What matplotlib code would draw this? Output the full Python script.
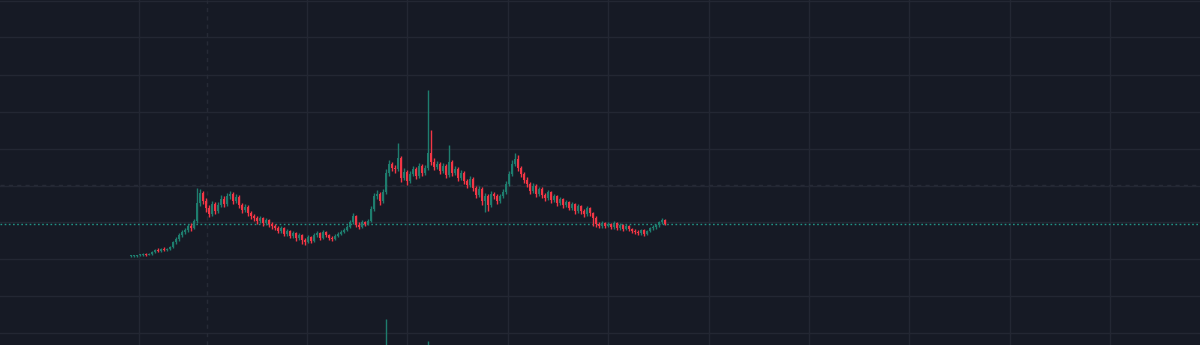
import matplotlib
matplotlib.use("Agg")
import matplotlib.pyplot as plt
import numpy as np

# ---- data (price in cents, candle index = time) ----
opens = [89, 89, 89, 90, 90, 91, 90, 91, 93, 95, 94, 96, 95,
         96, 98, 103, 106, 110, 113, 115, 119, 117, 124, 142,
         152, 144, 137, 131, 141, 134, 140, 146, 141, 149, 151, 144,
         148, 140, 135, 138, 132, 129, 127, 124, 127, 122, 125,
         121, 119, 117, 114, 117, 111, 114, 109, 112, 107,
         110, 105, 103, 108, 104, 110, 112, 107, 113, 110, 107, 106, 109,
         111, 113, 115, 118, 123, 129, 120, 118, 123, 121,
         124, 136, 149, 151, 144, 153, 172, 181, 177, 176, 187, 167, 173, 164,
         171, 176, 169, 179, 172, 177, 192, 183, 178, 181, 174, 179, 170, 183,
         172, 176, 167, 172, 164, 160, 166, 157, 150, 156, 144, 149, 140,
         151, 149, 144, 149, 153, 161, 171, 181, 186, 177, 171, 165, 161, 154,
         159, 151, 156, 150, 147, 153, 145, 149, 142, 146, 140, 143, 137, 141,
         134, 139, 134, 131, 137, 132, 127, 121, 119, 122, 119, 121, 118, 122,
         117, 120, 116, 119, 116, 114, 113, 112, 115, 111, 114, 117, 118, 120,
         123, 125]
closes = [89, 89, 90, 90, 91, 90, 91, 93, 95, 94, 96, 95, 96,
          98, 103, 106, 110, 113, 115, 119, 117, 124, 142, 152,
          144, 137, 131, 141, 134, 140, 146, 141, 149, 151, 144, 148,
          140, 135, 138, 132, 129, 127, 124, 127, 122, 125, 121,
          119, 117, 114, 117, 111, 114, 109, 112, 107, 110,
          105, 103, 108, 104, 110, 112, 107, 113, 110, 107, 106, 109, 111,
          113, 115, 118, 123, 129, 120, 118, 123, 121, 124,
          136, 149, 151, 144, 153, 172, 181, 177, 176, 187, 167, 173, 164, 171,
          176, 169, 179, 172, 177, 192, 183, 178, 181, 174, 179, 170, 183, 172,
          176, 167, 172, 164, 160, 166, 157, 150, 156, 144, 149, 140, 151,
          149, 144, 149, 153, 161, 171, 181, 186, 177, 171, 165, 161, 154, 159,
          151, 156, 150, 147, 153, 145, 149, 142, 146, 140, 143, 137, 141, 134,
          139, 134, 131, 137, 132, 127, 121, 119, 122, 119, 121, 118, 122, 117,
          120, 116, 119, 116, 114, 113, 112, 115, 111, 114, 117, 118, 120, 123,
          125, 121]
highs = [90, 90, 90, 91, 92, 92, 92, 94, 96, 97, 97, 98, 97,
         99, 104, 108, 112, 115, 117, 121, 122, 126, 157, 156,
         154, 147, 140, 144, 143, 143, 150, 149, 152, 154, 153, 151,
         150, 142, 141, 140, 134, 131, 129, 129, 128, 127, 126,
         123, 121, 119, 119, 118, 116, 115, 114, 113, 112,
         111, 107, 110, 109, 112, 114, 113, 115, 114, 111, 109, 111, 113,
         115, 117, 120, 125, 132, 130, 123, 125, 124, 126,
         139, 152, 155, 153, 156, 176, 185, 183, 180, 202, 189, 177, 175, 174,
         179, 178, 182, 181, 180, 255, 215, 187, 184, 183, 182, 181, 200, 185,
         179, 178, 175, 174, 166, 169, 168, 159, 159, 158, 152, 151, 154,
         153, 151, 151, 156, 164, 174, 185, 192, 190, 179, 173, 168, 163, 162,
         161, 158, 158, 152, 155, 154, 151, 150, 148, 147, 145, 144, 143, 142,
         141, 140, 136, 139, 138, 133, 129, 123, 124, 123, 123, 122, 124, 123,
         122, 121, 121, 120, 117, 116, 115, 116, 116, 115, 118, 120, 121, 124,
         127, 126]
lows = [88, 88, 88, 89, 89, 89, 90, 90, 92, 93, 93, 94, 94,
        95, 97, 101, 104, 108, 111, 113, 114, 116, 122, 139,
        141, 133, 128, 129, 131, 132, 138, 138, 139, 146, 141, 142,
        137, 132, 133, 129, 126, 124, 121, 122, 119, 120, 118,
        116, 115, 112, 112, 109, 109, 107, 107, 104, 105,
        101, 100, 102, 102, 103, 108, 105, 106, 108, 105, 104, 105, 108,
        110, 112, 114, 117, 121, 118, 116, 117, 119, 120,
        123, 134, 146, 140, 142, 151, 169, 174, 172, 174, 163, 165, 160, 162,
        169, 166, 167, 169, 170, 175, 180, 175, 176, 171, 172, 167, 168, 169,
        170, 164, 165, 161, 157, 158, 154, 147, 148, 140, 133, 134, 138,
        146, 141, 142, 147, 151, 159, 169, 179, 174, 168, 162, 158, 151, 152,
        148, 149, 147, 144, 145, 142, 143, 139, 140, 137, 138, 135, 135, 131,
        132, 131, 128, 129, 129, 119, 118, 117, 117, 117, 118, 116, 116, 115,
        115, 114, 115, 114, 112, 111, 110, 110, 109, 110, 113, 115, 116, 118,
        121, 120]
volumes = [0.02, 0.01, 0.02, 0.01, 0.02, 0.03, 0.01, 0.02, 0.03, 0.02, 0.02, 0.01, 0.02,
           0.02, 0.03, 0.03, 0.04, 0.03, 0.03, 0.04, 0.03, 0.04, 0.09, 0.06,
           0.05, 0.04, 0.04, 0.03, 0.03, 0.03, 0.04, 0.03, 0.04, 0.03, 0.03, 0.03,
           0.03, 0.02, 0.02, 0.02, 0.02, 0.02, 0.02, 0.01, 0.02, 0.01, 0.02,
           0.01, 0.02, 0.01, 0.02, 0.01, 0.01, 0.02, 0.01, 0.01, 0.02,
           0.02, 0.02, 0.01, 0.01, 0.02, 0.01, 0.01, 0.02, 0.01, 0.01, 0.01, 0.01, 0.01,
           0.02, 0.02, 0.02, 0.03, 0.04, 0.03, 0.02, 0.02, 0.02, 0.02,
           0.06, 0.07, 0.05, 0.04, 0.05, 26.0, 0.09, 0.06, 0.05, 0.08, 0.07, 0.05, 0.05, 0.04,
           0.04, 0.04, 0.05, 0.04, 0.04, 4.0, 0.10, 0.06, 0.04, 0.04, 0.04, 0.03, 0.06, 0.04,
           0.03, 0.03, 0.03, 0.03, 0.03, 0.03, 0.03, 0.03, 0.03, 0.03, 0.03, 0.03, 0.03,
           0.02, 0.02, 0.02, 0.02, 0.04, 0.05, 0.06, 0.06, 0.04, 0.03, 0.03, 0.02, 0.02, 0.02,
           0.02, 0.02, 0.02, 0.02, 0.02, 0.02, 0.02, 0.02, 0.02, 0.02, 0.01, 0.02, 0.01, 0.02,
           0.01, 0.02, 0.01, 0.01, 0.02, 0.01, 0.03, 0.02, 0.01, 0.01, 0.01, 0.01, 0.01, 0.01,
           0.01, 0.01, 0.01, 0.01, 0.01, 0.01, 0.01, 0.01, 0.01, 0.01, 0.01, 0.01, 0.01, 0.01,
           0.01, 0.01]

# ---- style ----
BG = "#161a25"
GRID = "#232733"
UP = "#1e7d6e"
DOWN = "#f23645"
PRICE_LINE = "#229486"
CROSS = "#262a36"

o = np.array(opens, float)
c = np.array(closes, float)
h = np.array(highs, float)
l = np.array(lows, float)
v = np.array(volumes, float)
x = np.arange(len(c))
up = c >= o
colors = np.where(up, UP, DOWN)

fig = plt.figure(figsize=(12, 3.45), dpi=100, facecolor=BG)
ax = fig.add_axes([0, 0, 1, 1])
ax.set_facecolor(BG)

# x scale: 3 px per candle, first candle at px 131
px = 3.0
ax.set_xlim(-131 / px, (1200 - 131) / px)
ax.set_ylim(0, 345)

# grid
vgrid = [2.67, 58.67, 92.0, 125.67, 159.0, 192.67, 226.0, 259.33, 293.0, 326.33]
hgrid = [344, 308, 270, 233, 196, 159, 123, 86, 49, 12]
for gx in vgrid:
    ax.axvline(gx, color=GRID, lw=1.0, zorder=0)
for gy in hgrid:
    ax.axhline(gy, color=GRID, lw=1.0, zorder=0)

# crosshair (faint dashed)
ax.axvline(25.33, color=CROSS, lw=1.0, ls=(0, (3, 3)), zorder=0.5)
ax.axhline(160, color=CROSS, lw=1.0, ls=(0, (3, 3)), zorder=0.5)

# volume on twin axis
axv = ax.twinx()
axv.set_ylim(0, v.max() * 345 / 26)
axv.set_xlim(ax.get_xlim())
axv.vlines(x, 0, v, colors=colors, lw=1.0, zorder=1)
for s in axv.spines.values():
    s.set_visible(False)
axv.set_yticks([])
axv.patch.set_visible(False)

# candles
ax.vlines(x, l, h, colors=colors, lw=1.0, zorder=2)
body_bottom = np.minimum(o, c)
body_h = np.maximum(np.abs(c - o), 1.0)
ax.bar(x, body_h, bottom=body_bottom, width=0.8, color=colors, lw=0, zorder=3)

# last price line
ax.axhline(c[-1], color=PRICE_LINE, lw=1.0, ls=(0, (1.2, 1.8)), zorder=1.5)

for s in ax.spines.values():
    s.set_visible(False)
ax.set_xticks([])
ax.set_yticks([])

fig.savefig("out.png", dpi=100, facecolor=BG)
